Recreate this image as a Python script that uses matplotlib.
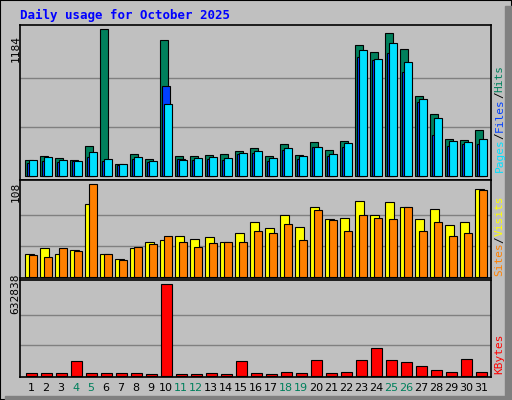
import numpy as np
import matplotlib.pyplot as plt
from matplotlib.patches import Rectangle

days = np.arange(1, 32)
hits = [131, 164, 147, 131, 244, 1184, 99, 180, 139, 1097, 164, 164, 172, 180, 204, 228,
        164, 260, 172, 276, 212, 284, 1057, 1001, 1154, 1025, 647, 502, 301, 292, 373]
files = [131, 156, 131, 123, 196, 139, 99, 156, 123, 582, 131, 147, 156, 147, 188, 204,
         147, 228, 164, 236, 180, 268, 1017, 945, 1074, 920, 623, 470, 284, 276, 301]
pages = [107, 124, 110, 118, 156, 118, 86, 139, 115, 727, 139, 131, 139, 131, 180, 188,
         123, 212, 139, 236, 164, 236, 961, 937, 993, 840, 599, 333, 244, 260, 260]
visits = [27, 34, 27, 31, 85, 26, 21, 33, 40, 43, 48, 44, 46, 41, 51, 64,
          57, 72, 58, 81, 67, 69, 89, 72, 87, 81, 67, 79, 60, 64, 102]
sites = [25, 23, 33, 30, 108, 26, 20, 35, 38, 48, 41, 35, 39, 40, 41, 53,
         51, 62, 43, 78, 66, 53, 72, 69, 68, 81, 53, 64, 48, 51, 101]
kbytes = [18500, 18500, 18500, 99300, 18500, 18500, 18500, 18500, 11000, 632838, 11000,
          11000, 18500, 11000, 99300, 18500, 11000, 25400, 18500, 106000, 18500, 25400,
          106000, 189000, 106000, 92400, 64700, 37000, 25400, 113000, 25400]
weekends = [4, 5, 11, 12, 18, 19, 25, 26]

BG = "#C0C0C0"
GREEN = "#00805C"
BLUE = "#0040FF"
CYAN = "#00E0FF"
YELLOW = "#FFFF00"
ORANGE = "#FF8000"
RED = "#FF0000"
mono = "DejaVu Sans Mono"

fig = plt.figure(figsize=(5.12, 4), dpi=100, facecolor=BG)
# outer frame
fig.add_artist(Rectangle((0, 0), 1, 1, transform=fig.transFigure, fill=False,
                         edgecolor="black", lw=1.5))
fig.add_artist(Rectangle((0.986, 0), 0.014, 0.985, transform=fig.transFigure,
                         color="#808080"))
fig.add_artist(Rectangle((0.01, 0), 0.99, 0.01, transform=fig.transFigure,
                         color="#808080"))

xl = (0.267, 31.67)
ax1 = fig.add_axes([0.039, 0.55, 0.92, 0.3875])
ax2 = fig.add_axes([0.039, 0.305, 0.92, 0.245])
ax3 = fig.add_axes([0.039, 0.0575, 0.92, 0.2425])

kw = dict(edgecolor="black", linewidth=0.8, align="edge", zorder=3)
ax1.bar(days - 0.4, hits, 0.52, color=GREEN, **kw)
ax1.bar(days - 0.27, pages, 0.52, color=BLUE, **kw)
ax1.bar(days - 0.13, files, 0.52, color=CYAN, **kw)
ax1.set_ylim(-32, 1216)
for g in (1184 / 3, 2 * 1184 / 3):
    ax1.axhline(g, color="#808080", lw=1, zorder=1)

ax2.bar(days - 0.4, visits, 0.6, color=YELLOW, **kw)
ax2.bar(days - 0.13, sites, 0.52, color=ORANGE, **kw)
ax2.set_ylim(-1.5, 113)
for g in (36, 72):
    ax2.axhline(g, color="#808080", lw=1, zorder=1)

ax3.bar(days - 0.33, kbytes, 0.7, color=RED, **kw)
ax3.set_ylim(-9000, 632838 + 30000)
for g in (632838 / 3, 2 * 632838 / 3):
    ax3.axhline(g, color="#808080", lw=1, zorder=1)

for ax in (ax1, ax2, ax3):
    ax.set_facecolor(BG)
    ax.set_xlim(*xl)
    ax.set_xticks([])
    ax.set_yticks([])
    for s in ax.spines.values():
        s.set_linewidth(1.2)

fig.text(0.039, 0.962, "Daily usage for October 2025", color="#0000FF",
         fontsize=9, fontweight="bold", family=mono, va="center")

fig.text(0.03, 0.88, "1184", rotation=90, fontsize=8, family=mono, ha="center", va="center")
fig.text(0.03, 0.52, "108", rotation=90, fontsize=8, family=mono, ha="center", va="center")
fig.text(0.03, 0.265, "632838", rotation=90, fontsize=8, family=mono, ha="center", va="center")

def side_label(parts, y0):
    # monospace advance: 0.602 em at 8 pt -> about 6.7 px per char
    step = 0.602 * 8 / 72 * 100 / 400
    y = y0
    for txt, c in parts:
        fig.text(0.976, y, txt, rotation=90, color=c, fontsize=8, family=mono,
                 ha="center", va="bottom")
        y += len(txt) * step

side_label([("Pages", CYAN), ("/", "black"), ("Files", BLUE), ("/", "black"),
            ("Hits", GREEN)], 0.57)
side_label([("Sites", ORANGE), ("/", "black"), ("Visits", YELLOW)], 0.31)
side_label([("KBytes", RED)], 0.065)

for d in days:
    x = 0.039 + 0.92 * (d - xl[0]) / (xl[1] - xl[0])
    fig.text(x, 0.03, str(d), color=GREEN if d in weekends else "black",
             fontsize=8, family="DejaVu Sans", ha="center", va="center")

fig.savefig("out.png", dpi=100, facecolor=BG)
